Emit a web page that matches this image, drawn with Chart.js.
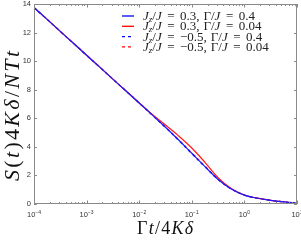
<!DOCTYPE html>
<html>
<head>
<meta charset="utf-8">
<script src="https://cdn.jsdelivr.net/npm/chart.js@4.4.1/dist/chart.umd.min.js"></script>
<style>
  html, body { margin: 0; padding: 0; background: #fff; }
  #wrap { width: 301px; height: 241px; }
</style>
</head>
<body>
<div id="wrap"><canvas id="chart" width="301" height="241"></canvas></div>
<script>
// time axis values (Gamma t / 4K delta)
const tValues = [0.0001, 0.000178, 0.000316, 0.000562, 0.001, 0.00178, 0.00316, 0.00562,
                 0.01, 0.0178, 0.0316, 0.0562, 0.1, 0.178, 0.316, 0.562, 1, 1.78, 3.16, 5.62, 10];

// S(t) 4K delta / N T t
const jz03g04   = [13.75, 12.92, 12.08, 11.25, 10.41, 9.58, 8.74, 7.91, 7.07, 6.22, 5.37, 4.48, 3.55, 2.62, 1.72, 1.05, 0.62, 0.4, 0.26, 0.15, 0.06];
const jz03g004  = [13.75, 12.92, 12.08, 11.25, 10.41, 9.58, 8.74, 7.91, 7.07, 6.27, 5.53, 4.77, 3.92, 2.92, 1.84, 1.08, 0.63, 0.41, 0.26, 0.15, 0.06];
const jzm05g04  = [13.75, 12.92, 12.08, 11.25, 10.41, 9.58, 8.74, 7.91, 7.07, 6.21, 5.36, 4.46, 3.52, 2.6, 1.72, 1.06, 0.63, 0.4, 0.26, 0.15, 0.06];
const jzm05g004 = [13.75, 12.92, 12.08, 11.25, 10.41, 9.58, 8.74, 7.91, 7.07, 6.23, 5.39, 4.5, 3.58, 2.65, 1.74, 1.05, 0.62, 0.4, 0.26, 0.15, 0.06];

const yTicks = [0, 2, 4, 6, 8, 10, 12, 14];
const xDecades = [-4, -3, -2, -1, 0, 1];

const legendRows = [
  { jz: '0.3',  g: '0.4',  color: '#0000ff', dash: [] },
  { jz: '0.3',  g: '0.04', color: '#ff0000', dash: [] },
  { jz: '\u22120.5', g: '0.4',  color: '#0000ff', dash: [3, 3] },
  { jz: '\u22120.5', g: '0.04', color: '#ff0000', dash: [3, 3] }
];

const SERIF = '"Liberation Serif", "DejaVu Serif", serif';
const SANS = '"Liberation Sans", Arial, sans-serif';

function pts(arr) {
  return arr.map((v, i) => ({ x: tValues[i], y: v }));
}

function ds(label, arr, color, dash) {
  return {
    label: label,
    data: pts(arr),
    borderColor: color,
    borderWidth: 1.2,
    borderDash: dash,
    pointRadius: 0,
    tension: 0.4,
    fill: false
  };
}

// draw text runs with their own fonts; gap runs ({g: n}) are blank space
function drawRuns(ctx, runs, x, y, align, spread) {
  let total = 0;
  runs.forEach(r => {
    if (r.g !== undefined) { r.w = r.g; }
    else { ctx.font = r.f; r.w = ctx.measureText(r.t).width; }
    total += r.w;
  });
  let extra = 0;
  if (spread) {
    extra = (spread - total) / (runs.length - 1);
    total = spread;
  }
  let cx = align === 'center' ? x - total / 2 : (align === 'right' ? x - total : x);
  runs.forEach(r => {
    if (r.g === undefined) {
      ctx.font = r.f;
      ctx.fillText(r.t, cx, y + (r.dy || 0));
    }
    cx += r.w + extra;
  });
}

// split a string into one run per character, all in one font
function chars(s, f) {
  return s.split('').map(c => ({ t: c, f: f }));
}

const framePlugin = {
  id: 'frame',
  afterDatasetsDraw(chart) {
    const ctx = chart.ctx;
    const a = chart.chartArea;
    const xs = chart.scales.x, ys = chart.scales.y;
    ctx.save();
    ctx.strokeStyle = '#8a8a8a';
    ctx.lineWidth = 1;
    ctx.strokeRect(a.left + 0.5, a.top + 0.5, a.right - a.left - 1, a.bottom - a.top - 1);

    // y ticks, both sides
    ctx.beginPath();
    yTicks.forEach(v => {
      const py = Math.round(ys.getPixelForValue(v)) + 0.5;
      ctx.moveTo(a.left, py); ctx.lineTo(a.left + 3, py);
      ctx.moveTo(a.right, py); ctx.lineTo(a.right - 3, py);
    });
    // x ticks, major and minor, bottom and top
    xDecades.forEach(d => {
      for (let m = 1; m <= 9; m++) {
        const v = m * Math.pow(10, d);
        if (v > 10.0001) break;
        const px = Math.round(xs.getPixelForValue(v)) + 0.5;
        const len = m === 1 ? 3.5 : 2;
        ctx.moveTo(px, a.bottom); ctx.lineTo(px, a.bottom - len);
        ctx.moveTo(px, a.top); ctx.lineTo(px, a.top + len);
      }
    });
    ctx.stroke();

    // tick labels
    ctx.fillStyle = '#333';
    ctx.textBaseline = 'middle';
    ctx.textAlign = 'right';
    ctx.font = '7.5px ' + SANS;
    yTicks.forEach(v => {
      ctx.fillText(String(v), a.left - 3, ys.getPixelForValue(v));
    });
    ctx.textAlign = 'left';
    ctx.textBaseline = 'alphabetic';
    xDecades.forEach(d => {
      const px = xs.getPixelForValue(Math.pow(10, d));
      drawRuns(ctx, [
        { t: '10', f: '7.5px ' + SANS },
        { t: d < 0 ? '\u2212' + (-d) : String(d), f: '5px ' + SANS, dy: -3.5 }
      ], px, a.bottom + 13, 'center');
    });

    // axis titles
    ctx.fillStyle = '#111';
    const it = s => 'italic ' + s + 'px ' + SERIF;
    const rm = s => s + 'px ' + SERIF;
    drawRuns(ctx, [].concat(
      chars('\u0393', rm(18)), chars('t', it(18)), chars('/4', rm(18)), chars('K\u03b4', it(18))
    ), 165, 234, 'center', 56);

    ctx.save();
    ctx.translate(19, 116);
    ctx.rotate(-Math.PI / 2);
    drawRuns(ctx, [].concat(
      chars('S', it(22)), chars('(', rm(22)), chars('t', it(22)), chars(')4', rm(22)),
      chars('K\u03b4', it(22)), chars('/', rm(22)), chars('NTt', it(22))
    ), 0, 0, 'center', 130);
    ctx.restore();

    // legend
    const fs = 13;
    const eqGap = 5.5;
    const commaGap = 4;
    legendRows.forEach((r, i) => {
      const y = 16 + i * 10.3;
      ctx.save();
      ctx.strokeStyle = r.color;
      ctx.lineWidth = 1.3;
      ctx.setLineDash(r.dash);
      ctx.beginPath();
      ctx.moveTo(122, y); ctx.lineTo(134, y);
      ctx.stroke();
      ctx.restore();
      ctx.fillStyle = '#222';
      drawRuns(ctx, [
        { t: 'J', f: it(fs) },
        { t: 'z', f: it(9), dy: 2 },
        { t: '/', f: rm(fs) },
        { t: 'J', f: it(fs) },
        { g: eqGap },
        { t: '=', f: rm(fs) },
        { g: eqGap },
        { t: r.jz + ',', f: rm(fs) },
        { g: commaGap },
        { t: '\u0393/', f: rm(fs) },
        { t: 'J', f: it(fs) },
        { g: eqGap },
        { t: '=', f: rm(fs) },
        { g: eqGap },
        { t: r.g, f: rm(fs) }
      ], 143, y + 4, 'left');
    });
    ctx.restore();
  }
};

new Chart(document.getElementById('chart'), {
  type: 'line',
  data: {
    datasets: [
      ds('Jz/J=0.3, G/J=0.4', jz03g04, '#1a1aff', []),
      ds('Jz/J=0.3, G/J=0.04', jz03g004, '#ff1a1a', []),
      ds('Jz/J=-0.5, G/J=0.4', jzm05g04, '#1a1aff', [3, 3]),
      ds('Jz/J=-0.5, G/J=0.04', jzm05g004, '#ff1a1a', [3, 3])
    ]
  },
  options: {
    responsive: false,
    animation: false,
    layout: { padding: { left: 34, right: 4, top: 4, bottom: 37 } },
    plugins: { legend: { display: false }, tooltip: { enabled: false } },
    scales: {
      x: { type: 'logarithmic', min: 0.0001, max: 10, display: false },
      y: { type: 'linear', min: 0, max: 14, display: false }
    }
  },
  plugins: [framePlugin]
});
</script>
</body>
</html>
